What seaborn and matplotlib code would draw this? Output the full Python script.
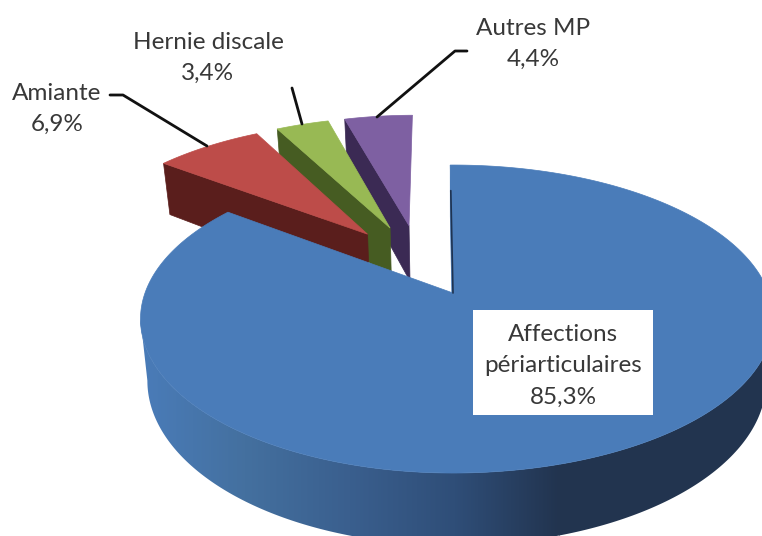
#!/usr/bin/env python3
# -*- coding: utf-8 -*-
import numpy as np
import seaborn as sns
import matplotlib
matplotlib.use('Agg')
import matplotlib.pyplot as plt
from matplotlib.patches import Polygon, Rectangle

# chart data
labels = ['Affections\npériarticulaires', 'Amiante', 'Hernie discale', 'Autres MP']
values = [85.3, 6.9, 3.4, 4.4]

# look of the slices
top_colors = ['#4a7cb9', '#bd4c49', '#98b954', '#7e60a2']
side_colors = ['#4a7cb9', '#5a1e1c', '#465c22', '#3b2a54']
explode = [0.0, 0.28, 0.28, 0.28]

# projection of the pie plane on the picture (pixels)
CX, CY = 453, 293
RX, RY = 308, 149.6
RIGHT_STRETCH = 1.025
PERSP = 0.169
DEPTH = 60
SHRINK = 0.978
ROT = -0.6
CENTER = (-0.113, 0.21)


def project(X, Y, bottom=False):
    s = 1 / (1 + PERSP * np.asarray(Y))
    x = RX * np.asarray(X) * s
    x = np.where(x > 0, x * RIGHT_STRETCH, x)
    y = CY - RY * np.asarray(Y) * s
    if bottom:
        return CX + x * SHRINK, y + DEPTH * s
    return CX + x, y


def slice_points(start, end, offset, bottom=False):
    # start and end in degrees, clockwise from 12 o'clock
    a = np.radians(np.linspace(start, end, 400) + ROT)
    X = offset[0] + np.sin(a)
    Y = offset[1] + np.cos(a)
    return project(X, Y, bottom), project(offset[0], offset[1], bottom)


def draw_rim(ax, start, end, offset, cmap):
    (xt, yt), _ = slice_points(start, end, offset)
    (xb, yb), _ = slice_points(start, end, offset, bottom=True)
    # outline goes from the right extreme to the left extreme, top rim then bottom rim
    t0, t1 = np.argmax(xt), np.argmin(xt)
    b0, b1 = np.argmax(xb), np.argmin(xb)
    outline = np.column_stack([np.r_[xt[t0:t1 + 1], xb[b0:b1 + 1][::-1]],
                               np.r_[yt[t0:t1 + 1], yb[b0:b1 + 1][::-1]]])
    gradient = np.linspace(0, 1, 512).reshape(1, -1)
    img = ax.imshow(gradient, extent=(140, 560, 536, 0), cmap=cmap, aspect='auto', zorder=2)
    img.set_clip_path(Polygon(outline, transform=ax.transData))
    # right of the gradient the side stays dark
    dark = ax.add_patch(Rectangle((559, 0), 210, 536, facecolor=cmap(1.0), edgecolor='none', zorder=2))
    dark.set_clip_path(Polygon(outline, transform=ax.transData))
    # left of the gradient there is only the lightest colour
    light = ax.add_patch(Rectangle((130, 0), 11, 536, facecolor=cmap(0.0), edgecolor='none', zorder=2))
    light.set_clip_path(Polygon(outline, transform=ax.transData))


def draw_slice(ax, start, end, offset, top, side):
    (xt, yt), (ax_t, ay_t) = slice_points(start, end, offset)
    (xb, yb), (ax_b, ay_b) = slice_points(start, end, offset, bottom=True)
    # cut face on the left of the slice
    ax.fill([xt[0], ax_t, ax_b, xb[0]], [yt[0], ay_t, ay_b, yb[0]], color=side, lw=0.5, zorder=2)
    ax.fill(np.r_[ax_t, xt], np.r_[ay_t, yt], color=top, lw=0.5, zorder=2)


sns.set_theme(style='white')
plt.rcParams['font.family'] = ['Lato', 'DejaVu Sans']

fig = plt.figure(figsize=(7.62, 5.36), dpi=100)
ax = fig.add_axes([0, 0, 1, 1])

angles = np.cumsum([0] + values) / sum(values) * 360

# small slices from back to front, the big one last
for i in [3, 2, 1]:
    mid = np.radians((angles[i] + angles[i + 1]) / 2 + ROT)
    offset = (CENTER[0] + explode[i] * np.sin(mid), CENTER[1] + explode[i] * np.cos(mid))
    draw_slice(ax, angles[i], angles[i + 1], offset, top_colors[i], side_colors[i])

blue_side = sns.blend_palette(['#4a7cb9', '#44709f', '#3a5f8e', '#2f4e78', '#22344f'], as_cmap=True)
draw_rim(ax, angles[0], angles[1], (0, 0), blue_side)
draw_slice(ax, angles[0], angles[1], (0, 0), top_colors[0], top_colors[0])

# thin dark edge on the cut of the big slice
(xt, yt), (xa, ya) = slice_points(angles[0], angles[1], (0, 0))
ax.plot([xa + (xt[0] - xa) * 0.8, xa], [ya + (yt[0] - ya) * 0.8, ya], color='#1f3350', lw=1.2, zorder=3)

# leader lines
ax.plot([110, 123, 207], [95, 95, 146], color='#111111', lw=2, zorder=4)
ax.plot([292, 302], [88, 124], color='#111111', lw=2, zorder=4)
ax.plot([467, 455, 377], [51, 51, 117], color='#111111', lw=2, zorder=4)

ax.add_patch(Rectangle((473, 310), 180, 105, facecolor='white', edgecolor='none', zorder=4))

label_pos = [(563, 366), (57, 109), (208, 58), (533, 44)]
for name, val, (x, y) in zip(labels, values, label_pos):
    txt = name + '\n' + '{:.1f}%'.format(val).replace('.', ',')
    ax.text(x, y, txt, ha='center', va='center', fontsize=17.5, color='#383838',
            linespacing=1.6, zorder=5)

ax.set_xlim(0, 762)
ax.set_ylim(536, 0)
ax.axis('off')

fig.savefig('out.png', dpi=100, facecolor='white')
